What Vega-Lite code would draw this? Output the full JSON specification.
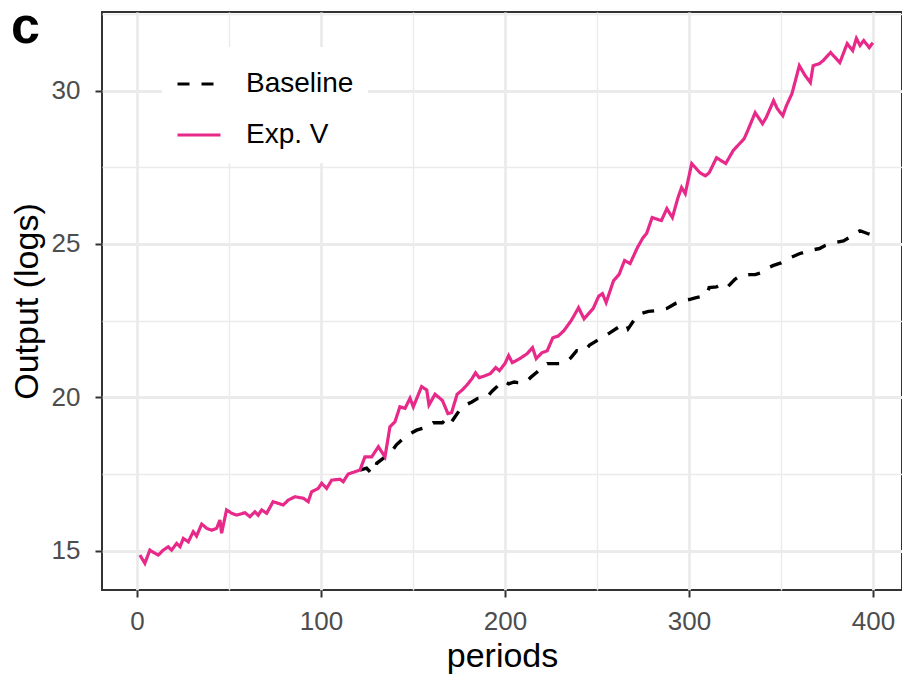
{
  "$schema": "https://vega.github.io/schema/vega-lite/v6.json",
  "width": 800,
  "height": 578,
  "autosize": {"type": "none"},
  "padding": {"left": 102, "top": 12, "right": 0, "bottom": 84},
  "background": "white",
  "datasets": {
    "panel": [{"label": "c", "px": -68.5, "py": 31.55}],
    "series": [
    {"series": "Exp. V", "period": 1.6, "value": 14.86},
    {"series": "Exp. V", "period": 4.3, "value": 14.59},
    {"series": "Exp. V", "period": 7, "value": 15.02},
    {"series": "Exp. V", "period": 9.8, "value": 14.92},
    {"series": "Exp. V", "period": 11.6, "value": 14.86},
    {"series": "Exp. V", "period": 14.3, "value": 15.02},
    {"series": "Exp. V", "period": 17, "value": 15.13},
    {"series": "Exp. V", "period": 18.8, "value": 15.02},
    {"series": "Exp. V", "period": 21.6, "value": 15.24},
    {"series": "Exp. V", "period": 23.4, "value": 15.13},
    {"series": "Exp. V", "period": 25.2, "value": 15.4},
    {"series": "Exp. V", "period": 27.9, "value": 15.29},
    {"series": "Exp. V", "period": 30.6, "value": 15.62},
    {"series": "Exp. V", "period": 32.4, "value": 15.48},
    {"series": "Exp. V", "period": 35.2, "value": 15.87},
    {"series": "Exp. V", "period": 37.9, "value": 15.73},
    {"series": "Exp. V", "period": 40.6, "value": 15.67},
    {"series": "Exp. V", "period": 43.3, "value": 15.73},
    {"series": "Exp. V", "period": 45.1, "value": 16.0},
    {"series": "Exp. V", "period": 46, "value": 15.57},
    {"series": "Exp. V", "period": 48.7, "value": 16.33},
    {"series": "Exp. V", "period": 51.5, "value": 16.22},
    {"series": "Exp. V", "period": 54.2, "value": 16.16},
    {"series": "Exp. V", "period": 58.7, "value": 16.24},
    {"series": "Exp. V", "period": 61.4, "value": 16.11},
    {"series": "Exp. V", "period": 64.1, "value": 16.27},
    {"series": "Exp. V", "period": 65.9, "value": 16.16},
    {"series": "Exp. V", "period": 67.8, "value": 16.33},
    {"series": "Exp. V", "period": 70.5, "value": 16.22},
    {"series": "Exp. V", "period": 74, "value": 16.6},
    {"series": "Exp. V", "period": 79.5, "value": 16.49},
    {"series": "Exp. V", "period": 82.2, "value": 16.65},
    {"series": "Exp. V", "period": 85.9, "value": 16.76},
    {"series": "Exp. V", "period": 90.4, "value": 16.71},
    {"series": "Exp. V", "period": 93.1, "value": 16.6},
    {"series": "Exp. V", "period": 94.9, "value": 16.92},
    {"series": "Exp. V", "period": 98.5, "value": 17.03},
    {"series": "Exp. V", "period": 100.4, "value": 17.2},
    {"series": "Exp. V", "period": 103.1, "value": 17.03},
    {"series": "Exp. V", "period": 105.8, "value": 17.3},
    {"series": "Exp. V", "period": 110.3, "value": 17.33},
    {"series": "Exp. V", "period": 112.1, "value": 17.25},
    {"series": "Exp. V", "period": 114.8, "value": 17.5},
    {"series": "Exp. V", "period": 121.2, "value": 17.63},
    {"series": "Exp. V", "period": 123.9, "value": 18.06},
    {"series": "Exp. V", "period": 127.6, "value": 18.06},
    {"series": "Exp. V", "period": 131.2, "value": 18.39},
    {"series": "Exp. V", "period": 134.8, "value": 18.06},
    {"series": "Exp. V", "period": 137.5, "value": 19.04},
    {"series": "Exp. V", "period": 140.2, "value": 19.2},
    {"series": "Exp. V", "period": 142.9, "value": 19.69},
    {"series": "Exp. V", "period": 145.7, "value": 19.64},
    {"series": "Exp. V", "period": 148.4, "value": 19.97},
    {"series": "Exp. V", "period": 150.2, "value": 19.69},
    {"series": "Exp. V", "period": 154.7, "value": 20.35},
    {"series": "Exp. V", "period": 157.5, "value": 20.24},
    {"series": "Exp. V", "period": 158.7, "value": 19.75},
    {"series": "Exp. V", "period": 162, "value": 20.1},
    {"series": "Exp. V", "period": 164, "value": 20.0},
    {"series": "Exp. V", "period": 166, "value": 19.9},
    {"series": "Exp. V", "period": 169, "value": 19.47},
    {"series": "Exp. V", "period": 171, "value": 19.5},
    {"series": "Exp. V", "period": 174, "value": 20.1},
    {"series": "Exp. V", "period": 177, "value": 20.25},
    {"series": "Exp. V", "period": 179, "value": 20.38},
    {"series": "Exp. V", "period": 182, "value": 20.6},
    {"series": "Exp. V", "period": 184, "value": 20.8},
    {"series": "Exp. V", "period": 186, "value": 20.64},
    {"series": "Exp. V", "period": 189, "value": 20.7},
    {"series": "Exp. V", "period": 192, "value": 20.77},
    {"series": "Exp. V", "period": 195, "value": 20.97},
    {"series": "Exp. V", "period": 197, "value": 20.87},
    {"series": "Exp. V", "period": 200, "value": 21.1},
    {"series": "Exp. V", "period": 202, "value": 21.36},
    {"series": "Exp. V", "period": 204, "value": 21.13},
    {"series": "Exp. V", "period": 208, "value": 21.26},
    {"series": "Exp. V", "period": 212, "value": 21.42},
    {"series": "Exp. V", "period": 215, "value": 21.62},
    {"series": "Exp. V", "period": 217, "value": 21.26},
    {"series": "Exp. V", "period": 220, "value": 21.45},
    {"series": "Exp. V", "period": 223, "value": 21.52},
    {"series": "Exp. V", "period": 226, "value": 21.94},
    {"series": "Exp. V", "period": 229, "value": 22.0},
    {"series": "Exp. V", "period": 232, "value": 22.17},
    {"series": "Exp. V", "period": 236, "value": 22.5},
    {"series": "Exp. V", "period": 240, "value": 22.92},
    {"series": "Exp. V", "period": 243, "value": 22.56},
    {"series": "Exp. V", "period": 248, "value": 22.9},
    {"series": "Exp. V", "period": 251, "value": 23.3},
    {"series": "Exp. V", "period": 253, "value": 23.38},
    {"series": "Exp. V", "period": 255, "value": 23.09},
    {"series": "Exp. V", "period": 259, "value": 23.8},
    {"series": "Exp. V", "period": 262, "value": 24.0},
    {"series": "Exp. V", "period": 265, "value": 24.46},
    {"series": "Exp. V", "period": 268, "value": 24.36},
    {"series": "Exp. V", "period": 272, "value": 24.88},
    {"series": "Exp. V", "period": 275, "value": 25.2},
    {"series": "Exp. V", "period": 277, "value": 25.34},
    {"series": "Exp. V", "period": 280, "value": 25.86},
    {"series": "Exp. V", "period": 285, "value": 25.76},
    {"series": "Exp. V", "period": 288, "value": 26.15},
    {"series": "Exp. V", "period": 291, "value": 25.86},
    {"series": "Exp. V", "period": 294, "value": 26.5},
    {"series": "Exp. V", "period": 296, "value": 26.84},
    {"series": "Exp. V", "period": 298, "value": 26.64},
    {"series": "Exp. V", "period": 301.5, "value": 27.62},
    {"series": "Exp. V", "period": 306, "value": 27.32},
    {"series": "Exp. V", "period": 309, "value": 27.22},
    {"series": "Exp. V", "period": 311, "value": 27.32},
    {"series": "Exp. V", "period": 315, "value": 27.81},
    {"series": "Exp. V", "period": 320, "value": 27.62},
    {"series": "Exp. V", "period": 324, "value": 28.04},
    {"series": "Exp. V", "period": 328, "value": 28.3},
    {"series": "Exp. V", "period": 330, "value": 28.43},
    {"series": "Exp. V", "period": 332, "value": 28.7},
    {"series": "Exp. V", "period": 336, "value": 29.28},
    {"series": "Exp. V", "period": 340, "value": 28.92},
    {"series": "Exp. V", "period": 342, "value": 29.12},
    {"series": "Exp. V", "period": 346, "value": 29.67},
    {"series": "Exp. V", "period": 348, "value": 29.41},
    {"series": "Exp. V", "period": 351, "value": 29.18},
    {"series": "Exp. V", "period": 353, "value": 29.51},
    {"series": "Exp. V", "period": 356, "value": 29.9},
    {"series": "Exp. V", "period": 360, "value": 30.81},
    {"series": "Exp. V", "period": 363, "value": 30.5},
    {"series": "Exp. V", "period": 366, "value": 30.26},
    {"series": "Exp. V", "period": 367.5, "value": 30.81},
    {"series": "Exp. V", "period": 371, "value": 30.88},
    {"series": "Exp. V", "period": 373, "value": 30.98},
    {"series": "Exp. V", "period": 377, "value": 31.24},
    {"series": "Exp. V", "period": 378.5, "value": 31.14},
    {"series": "Exp. V", "period": 382, "value": 30.91},
    {"series": "Exp. V", "period": 386, "value": 31.53},
    {"series": "Exp. V", "period": 389, "value": 31.3},
    {"series": "Exp. V", "period": 391, "value": 31.7},
    {"series": "Exp. V", "period": 393, "value": 31.47},
    {"series": "Exp. V", "period": 395, "value": 31.63},
    {"series": "Exp. V", "period": 398, "value": 31.4},
    {"series": "Exp. V", "period": 400, "value": 31.56},
    {"series": "Baseline", "period": 121.2, "value": 17.63},
    {"series": "Baseline", "period": 124.8, "value": 17.69},
    {"series": "Baseline", "period": 127, "value": 17.55},
    {"series": "Baseline", "period": 129.3, "value": 17.58},
    {"series": "Baseline", "period": 130.3, "value": 17.85},
    {"series": "Baseline", "period": 134, "value": 18.02},
    {"series": "Baseline", "period": 138.4, "value": 18.23},
    {"series": "Baseline", "period": 141, "value": 18.45},
    {"series": "Baseline", "period": 144.7, "value": 18.66},
    {"series": "Baseline", "period": 148, "value": 18.8},
    {"series": "Baseline", "period": 152, "value": 18.93},
    {"series": "Baseline", "period": 158.3, "value": 19.04},
    {"series": "Baseline", "period": 161, "value": 19.17},
    {"series": "Baseline", "period": 166, "value": 19.17},
    {"series": "Baseline", "period": 169, "value": 19.35},
    {"series": "Baseline", "period": 171, "value": 19.2},
    {"series": "Baseline", "period": 175, "value": 19.55},
    {"series": "Baseline", "period": 178, "value": 19.73},
    {"series": "Baseline", "period": 182, "value": 19.85},
    {"series": "Baseline", "period": 185, "value": 19.96},
    {"series": "Baseline", "period": 190, "value": 19.99},
    {"series": "Baseline", "period": 193, "value": 20.2},
    {"series": "Baseline", "period": 195, "value": 20.31},
    {"series": "Baseline", "period": 199, "value": 20.54},
    {"series": "Baseline", "period": 202, "value": 20.44},
    {"series": "Baseline", "period": 205, "value": 20.5},
    {"series": "Baseline", "period": 207, "value": 20.48},
    {"series": "Baseline", "period": 211, "value": 20.48},
    {"series": "Baseline", "period": 214, "value": 20.65},
    {"series": "Baseline", "period": 217, "value": 20.8},
    {"series": "Baseline", "period": 220, "value": 20.95},
    {"series": "Baseline", "period": 223, "value": 21.1},
    {"series": "Baseline", "period": 227, "value": 21.1},
    {"series": "Baseline", "period": 230, "value": 21.1},
    {"series": "Baseline", "period": 233, "value": 21.13},
    {"series": "Baseline", "period": 236, "value": 21.3},
    {"series": "Baseline", "period": 239, "value": 21.52},
    {"series": "Baseline", "period": 243, "value": 21.5},
    {"series": "Baseline", "period": 246, "value": 21.7},
    {"series": "Baseline", "period": 250, "value": 21.85},
    {"series": "Baseline", "period": 254, "value": 22.0},
    {"series": "Baseline", "period": 257, "value": 22.1},
    {"series": "Baseline", "period": 262, "value": 22.3},
    {"series": "Baseline", "period": 266, "value": 22.4},
    {"series": "Baseline", "period": 267, "value": 22.24},
    {"series": "Baseline", "period": 270, "value": 22.5},
    {"series": "Baseline", "period": 272, "value": 22.66},
    {"series": "Baseline", "period": 274, "value": 22.73},
    {"series": "Baseline", "period": 278, "value": 22.8},
    {"series": "Baseline", "period": 283, "value": 22.83},
    {"series": "Baseline", "period": 288, "value": 22.9},
    {"series": "Baseline", "period": 293, "value": 23.07},
    {"series": "Baseline", "period": 297, "value": 23.15},
    {"series": "Baseline", "period": 301, "value": 23.2},
    {"series": "Baseline", "period": 304, "value": 23.25},
    {"series": "Baseline", "period": 308, "value": 23.3},
    {"series": "Baseline", "period": 310, "value": 23.38},
    {"series": "Baseline", "period": 311, "value": 23.58},
    {"series": "Baseline", "period": 315, "value": 23.6},
    {"series": "Baseline", "period": 318, "value": 23.7},
    {"series": "Baseline", "period": 321, "value": 23.6},
    {"series": "Baseline", "period": 325, "value": 23.85},
    {"series": "Baseline", "period": 328, "value": 23.97},
    {"series": "Baseline", "period": 333, "value": 24.0},
    {"series": "Baseline", "period": 336, "value": 24.0},
    {"series": "Baseline", "period": 339, "value": 24.06},
    {"series": "Baseline", "period": 342, "value": 24.2},
    {"series": "Baseline", "period": 346, "value": 24.3},
    {"series": "Baseline", "period": 350, "value": 24.38},
    {"series": "Baseline", "period": 355, "value": 24.55},
    {"series": "Baseline", "period": 360, "value": 24.68},
    {"series": "Baseline", "period": 365, "value": 24.78},
    {"series": "Baseline", "period": 371, "value": 24.85},
    {"series": "Baseline", "period": 374, "value": 24.95},
    {"series": "Baseline", "period": 377, "value": 25.0},
    {"series": "Baseline", "period": 380, "value": 25.05},
    {"series": "Baseline", "period": 384, "value": 25.1},
    {"series": "Baseline", "period": 387, "value": 25.2},
    {"series": "Baseline", "period": 390, "value": 25.35},
    {"series": "Baseline", "period": 393, "value": 25.43},
    {"series": "Baseline", "period": 397, "value": 25.34},
    {"series": "Baseline", "period": 400, "value": 25.28}
  ]},
  "layer": [
    {
      "data": {"name": "series"},
      "transform": [{"filter": "datum.series === 'Baseline'"}],
      "mark": {"type": "line", "strokeWidth": 3.4},
      "encoding": {
        "x": {"field": "period", "type": "quantitative", "title": "periods",
          "scale": {"domain": [-19, 415.8], "nice": false, "zero": false},
          "axis": {"values": [0, 50, 100, 150, 200, 250, 300, 350, 400],
            "labelExpr": "datum.value % 100 === 0 ? datum.label : ''",
            "gridWidth": {"condition": {"test": "datum.value % 100 === 0", "value": 2.8}, "value": 1.4},
            "tickOpacity": {"condition": {"test": "datum.value % 100 === 0", "value": 1}, "value": 0},
            "labelPadding": 11, "titlePadding": 5}},
        "y": {"field": "value", "type": "quantitative", "title": "Output (logs)",
          "scale": {"domain": [13.72, 32.56], "nice": false, "zero": false},
          "axis": {"values": [15, 17.5, 20, 22.5, 25, 27.5, 30, 32.5],
            "labelExpr": "datum.value % 5 === 0 ? datum.label : ''",
            "gridWidth": {"condition": {"test": "datum.value % 5 === 0", "value": 2.8}, "value": 1.4},
            "tickOpacity": {"condition": {"test": "datum.value % 5 === 0", "value": 1}, "value": 0},
            "labelPadding": 15, "titlePadding": 7}},
        "color": {"field": "series", "type": "nominal",
          "scale": {"domain": ["Baseline", "Exp. V"], "range": ["#000000", "#e7298a"]},
          "legend": {"title": null, "orient": "none", "legendX": 60, "legendY": 35,
            "fillColor": "white", "padding": 14, "rowPadding": 14,
            "symbolType": "stroke", "symbolSize": 1849, "symbolStrokeWidth": 3,
            "labelFontSize": 28, "labelColor": "#000000", "labelOffset": 24, "labelFont": "Liberation Sans"}},
        "strokeDash": {"field": "series", "type": "nominal",
          "scale": {"domain": ["Baseline", "Exp. V"], "range": [[12, 12], [1, 0]]},
          "legend": {"title": null, "orient": "none", "legendX": 60, "legendY": 35,
            "fillColor": "white", "padding": 14, "rowPadding": 14,
            "symbolType": "stroke", "symbolSize": 1849, "symbolStrokeWidth": 3,
            "labelFontSize": 28, "labelColor": "#000000", "labelOffset": 24, "labelFont": "Liberation Sans"}}
      }
    },
    {
      "data": {"name": "series"},
      "transform": [{"filter": "datum.series === 'Exp. V'"}],
      "mark": {"type": "line", "strokeWidth": 3.2},
      "encoding": {
        "x": {"field": "period", "type": "quantitative"},
        "y": {"field": "value", "type": "quantitative"},
        "color": {"field": "series", "type": "nominal"},
        "strokeDash": {"field": "series", "type": "nominal"}
      }
    },
    {
      "data": {"name": "panel"},
      "mark": {"type": "text", "fontSize": 52, "fontWeight": "bold", "font": "Liberation Sans", "align": "left", "baseline": "alphabetic", "color": "#000000", "clip": false},
      "encoding": {
        "x": {"field": "px", "type": "quantitative"},
        "y": {"field": "py", "type": "quantitative"},
        "text": {"field": "label"}
      }
    }
  ],
  "config": {
    "font": "Liberation Sans",
    "view": {"stroke": "#333333", "strokeWidth": 2},
    "axis": {"domain": false, "gridColor": "#ebebeb", "tickColor": "#333333", "tickWidth": 2, "tickSize": 7,
      "labelFontSize": 26, "labelColor": "#4d4d4d", "labelFont": "Liberation Sans", "labelFlush": false, "labelOverlap": false,
      "titleFontSize": 34, "titleFontWeight": "normal", "titleColor": "#000000", "titleFont": "Liberation Sans"}
  }
}
